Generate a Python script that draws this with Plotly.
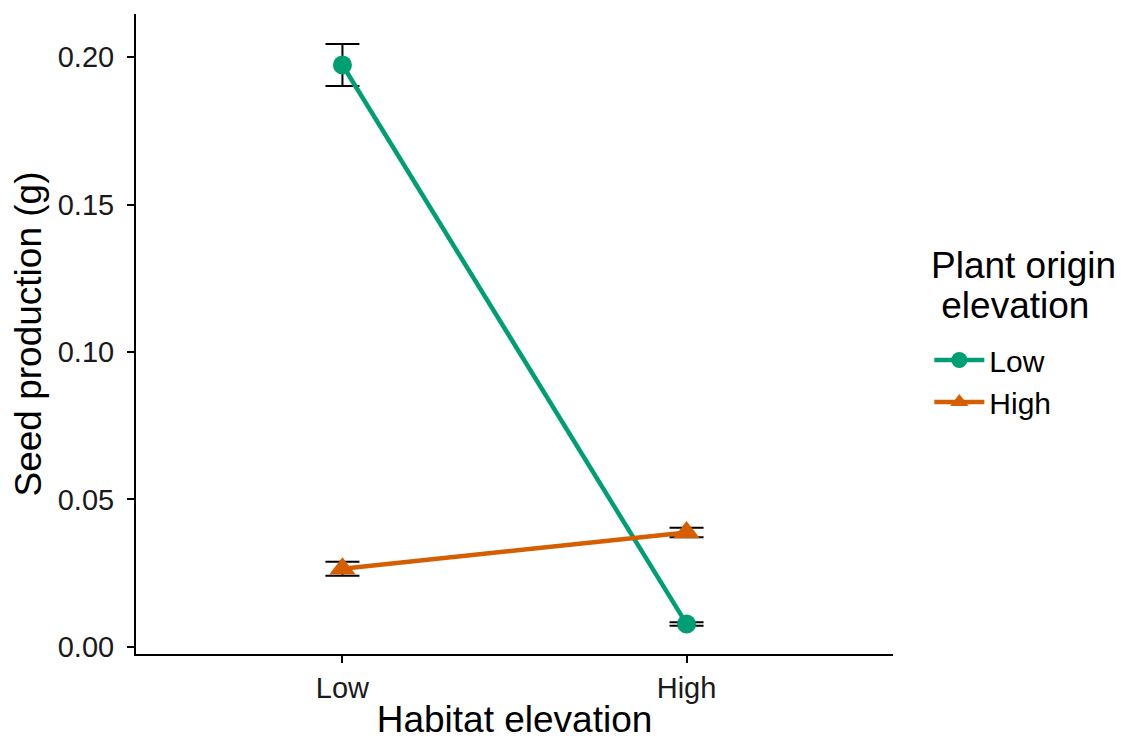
import plotly.graph_objects as go

habitat = ["Low", "High"]
origin_names = ["Low", "High"]
low_origin_mean = [0.1973, 0.0078]
low_origin_se = [0.0071, 0.0006]
high_origin_mean = [0.0265, 0.0388]
high_origin_se = [0.0024, 0.0016]
colors = ["#009E73", "#D55E00"]
symbols = ["circle", "triangle-up"]
legend_title_lines = ["Plant origin", "\u00a0elevation"]

means = [low_origin_mean, high_origin_mean]
ses = [low_origin_se, high_origin_se]

fig = go.Figure()
# error bars first (below lines)
for m, s in zip(means, ses):
    fig.add_trace(go.Scatter(
        x=habitat, y=m, mode="markers",
        marker=dict(opacity=0, size=1),
        error_y=dict(type="data", array=s, color="black", thickness=2, width=17),
        showlegend=False, hoverinfo="skip"))
for name, m, c, sym in zip(origin_names, means, colors, symbols):
    fig.add_trace(go.Scatter(
        x=habitat, y=m, mode="lines+markers", name=name,
        line=dict(color=c, width=4.5),
        marker=dict(color=c, size=19 if sym == "circle" else 23, symbol=sym)))

font = "Liberation Sans, Arial, sans-serif"
# legend title as annotations (two lines, ggplot-like spacing)
for i, line in enumerate(legend_title_lines):
    fig.add_annotation(
        text=line, xref="paper", yref="paper",
        x=1.048, xanchor="left", y=(654 - 265 - 40 * i) / 640, yanchor="middle",
        showarrow=False, font=dict(size=37, color="black"), align="left")

fig.update_layout(
    width=1115, height=732,
    margin=dict(l=128, r=230, t=6, b=86, autoexpand=False),
    paper_bgcolor="white", plot_bgcolor="white",
    font=dict(family=font, color="black"),
    legend=dict(
        font=dict(size=30),
        x=1.048, xanchor="left", y=(654 - 334) / 640, yanchor="top",
        itemwidth=50,
    ),
    xaxis=dict(
        type="category", range=[-0.6, 1.6], automargin=False,
        showline=True, linecolor="black", linewidth=2,
        ticks="outside", ticklen=7, tickwidth=2, tickcolor="black",
        tickfont=dict(size=29, color="#1a1a1a"),
        title=dict(text="Habitat elevation", font=dict(size=37), standoff=7),
        showgrid=False, zeroline=False,
    ),
    yaxis=dict(
        range=[-0.0024, 0.2146], automargin=False,
        tickvals=[0, 0.05, 0.10, 0.15, 0.20], tickformat=".2f",
        showline=True, linecolor="black", linewidth=2,
        ticks="outside", ticklen=7, tickwidth=2, tickcolor="black",
        tickfont=dict(size=29, color="#1a1a1a"),
        ticklabelstandoff=7,
        title=dict(text="Seed production (g)", font=dict(size=37), standoff=8),
        showgrid=False, zeroline=False,
    ),
)
fig.write_html("out.html")
